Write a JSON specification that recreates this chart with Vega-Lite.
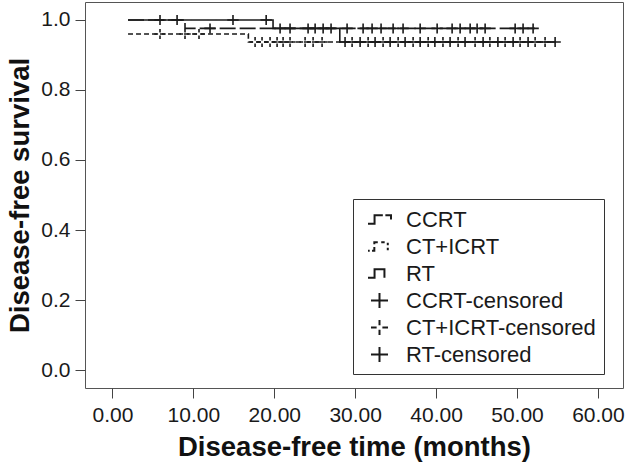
{
  "$schema": "https://vega.github.io/schema/vega-lite/v6.json",
  "width": 538,
  "height": 386,
  "autosize": {"type": "none"},
  "padding": {"left": 85, "top": 2, "right": 4, "bottom": 78},
  "background": "white",
  "config": {
    "font": "Liberation Sans",
    "view": {"stroke": "#555", "strokeWidth": 1},
    "axis": {
      "domain": false, "grid": false, "tickColor": "#444", "tickSize": 10, "tickWidth": 1,
      "labelFontSize": 21, "labelColor": "#1a1a1a", "labelFont": "Liberation Sans",
      "titleFontSize": 27.5, "titleFontWeight": "bold", "titleColor": "#111", "titleFont": "Liberation Sans"
    },
    "legend": {
      "padding": 8, "strokeColor": "#333", "labelFontSize": 22, "labelColor": "#1a1a1a",
      "labelFont": "Liberation Sans", "labelLimit": 0, "symbolSize": 529, "symbolStrokeWidth": 2,
      "symbolStrokeColor": "#1a1a1a", "symbolFillColor": "transparent",
      "labelOffset": 14, "symbolOffset": 6, "rowPadding": 3
    }
  },
  "datasets": {
    "lines": [
      {"series": "CCRT", "time": 1.93, "surv": 1.0},
      {"series": "CCRT", "time": 8.97, "surv": 0.976},
      {"series": "CCRT", "time": 52.2, "surv": 0.976},
      {"series": "RT", "time": 1.93, "surv": 1.0},
      {"series": "RT", "time": 19.85, "surv": 0.976},
      {"series": "RT", "time": 28.1, "surv": 0.937},
      {"series": "RT", "time": 54.8, "surv": 0.937},
      {"series": "CT+ICRT", "time": 1.93, "surv": 0.96},
      {"series": "CT+ICRT", "time": 16.8, "surv": 0.937},
      {"series": "CT+ICRT", "time": 54.1, "surv": 0.937}
    ],
    "censor": [
      {"series": "RT-censored", "time": 5.88, "surv": 1.0},
      {"series": "RT-censored", "time": 7.99, "surv": 1.0},
      {"series": "RT-censored", "time": 14.9, "surv": 1.0},
      {"series": "RT-censored", "time": 19.0, "surv": 1.0},
      {"series": "CCRT-censored", "time": 12.06, "surv": 0.976},
      {"series": "RT-censored", "time": 20.72, "surv": 0.976},
      {"series": "RT-censored", "time": 21.95, "surv": 0.976},
      {"series": "RT-censored", "time": 24.18, "surv": 0.976},
      {"series": "CCRT-censored", "time": 25.05, "surv": 0.976},
      {"series": "CCRT-censored", "time": 26.04, "surv": 0.976},
      {"series": "CCRT-censored", "time": 27.02, "surv": 0.976},
      {"series": "CCRT-censored", "time": 29.0, "surv": 0.976},
      {"series": "CCRT-censored", "time": 30.98, "surv": 0.976},
      {"series": "CCRT-censored", "time": 32.09, "surv": 0.976},
      {"series": "CCRT-censored", "time": 33.2, "surv": 0.976},
      {"series": "CCRT-censored", "time": 34.69, "surv": 0.976},
      {"series": "CCRT-censored", "time": 35.92, "surv": 0.976},
      {"series": "CCRT-censored", "time": 38.03, "surv": 0.976},
      {"series": "CCRT-censored", "time": 40.13, "surv": 0.976},
      {"series": "CCRT-censored", "time": 41.98, "surv": 0.976},
      {"series": "CCRT-censored", "time": 42.97, "surv": 0.976},
      {"series": "CCRT-censored", "time": 44.21, "surv": 0.976},
      {"series": "CCRT-censored", "time": 45.07, "surv": 0.976},
      {"series": "CCRT-censored", "time": 46.06, "surv": 0.976},
      {"series": "CCRT-censored", "time": 49.77, "surv": 0.976},
      {"series": "CCRT-censored", "time": 50.75, "surv": 0.976},
      {"series": "CCRT-censored", "time": 51.99, "surv": 0.976},
      {"series": "CT+ICRT-censored", "time": 5.88, "surv": 0.96},
      {"series": "CT+ICRT-censored", "time": 8.97, "surv": 0.96},
      {"series": "CT+ICRT-censored", "time": 10.7, "surv": 0.96},
      {"series": "CT+ICRT-censored", "time": 17.63, "surv": 0.937},
      {"series": "CT+ICRT-censored", "time": 18.49, "surv": 0.937},
      {"series": "CT+ICRT-censored", "time": 19.48, "surv": 0.937},
      {"series": "CT+ICRT-censored", "time": 20.35, "surv": 0.937},
      {"series": "CT+ICRT-censored", "time": 21.09, "surv": 0.937},
      {"series": "CT+ICRT-censored", "time": 21.95, "surv": 0.937},
      {"series": "CT+ICRT-censored", "time": 23.81, "surv": 0.937},
      {"series": "CT+ICRT-censored", "time": 24.8, "surv": 0.937},
      {"series": "CT+ICRT-censored", "time": 25.91, "surv": 0.937},
      {"series": "CT+ICRT-censored", "time": 29.62, "surv": 0.937},
      {"series": "CT+ICRT-censored", "time": 31.6, "surv": 0.937},
      {"series": "CT+ICRT-censored", "time": 33.45, "surv": 0.937},
      {"series": "CT+ICRT-censored", "time": 35.31, "surv": 0.937},
      {"series": "CT+ICRT-censored", "time": 37.16, "surv": 0.937},
      {"series": "CT+ICRT-censored", "time": 39.02, "surv": 0.937},
      {"series": "CT+ICRT-censored", "time": 40.85, "surv": 0.937},
      {"series": "CT+ICRT-censored", "time": 42.72, "surv": 0.937},
      {"series": "CT+ICRT-censored", "time": 44.82, "surv": 0.937},
      {"series": "CT+ICRT-censored", "time": 46.65, "surv": 0.937},
      {"series": "CT+ICRT-censored", "time": 48.53, "surv": 0.937},
      {"series": "CT+ICRT-censored", "time": 50.38, "surv": 0.937},
      {"series": "CT+ICRT-censored", "time": 52.24, "surv": 0.937},
      {"series": "CT+ICRT-censored", "time": 53.47, "surv": 0.937},
      {"series": "RT-censored", "time": 28.75, "surv": 0.937},
      {"series": "RT-censored", "time": 30.61, "surv": 0.937},
      {"series": "RT-censored", "time": 32.46, "surv": 0.937},
      {"series": "RT-censored", "time": 34.32, "surv": 0.937},
      {"series": "RT-censored", "time": 36.17, "surv": 0.937},
      {"series": "RT-censored", "time": 38.03, "surv": 0.937},
      {"series": "RT-censored", "time": 39.85, "surv": 0.937},
      {"series": "RT-censored", "time": 41.73, "surv": 0.937},
      {"series": "RT-censored", "time": 43.58, "surv": 0.937},
      {"series": "RT-censored", "time": 45.81, "surv": 0.937},
      {"series": "RT-censored", "time": 47.64, "surv": 0.937},
      {"series": "RT-censored", "time": 49.52, "surv": 0.937},
      {"series": "RT-censored", "time": 51.37, "surv": 0.937},
      {"series": "RT-censored", "time": 54.71, "surv": 0.937}
    ]
  },
  "encoding": {
    "x": {
      "field": "time", "type": "quantitative",
      "scale": {"domain": [-3.39, 63.1], "nice": false, "zero": false},
      "axis": {"values": [0, 10, 20, 30, 40, 50, 60], "format": ".2f", "labelPadding": 6, "titlePadding": 8, "title": "Disease-free time (months)"}
    },
    "y": {
      "field": "surv", "type": "quantitative",
      "scale": {"domain": [-0.0514, 1.0514], "nice": false, "zero": false},
      "axis": {"values": [0, 0.2, 0.4, 0.6, 0.8, 1.0], "format": ".1f", "labelPadding": 5, "titlePadding": 6, "title": "Disease-free survival"}
    }
  },
  "layer": [
    {
      "data": {"name": "lines"},
      "mark": {"type": "line", "interpolate": "step-after", "strokeWidth": 1.6, "color": "#1a1a1a"},
      "encoding": {
        "strokeDash": {
          "field": "series", "type": "nominal", "legend": null,
          "scale": {"domain": ["CCRT", "CT+ICRT", "RT"], "range": [[16, 4], [5, 3], [1, 0]]}
        }
      }
    },
    {
      "data": {"name": "censor"},
      "mark": {"type": "point", "filled": false, "size": 237, "strokeWidth": 1.6, "color": "#1a1a1a", "opacity": 1},
      "encoding": {
        "shape": {
          "field": "series", "type": "nominal",
          "scale": {
            "domain": ["CCRT", "CT+ICRT", "RT", "CCRT-censored", "CT+ICRT-censored", "RT-censored"],
            "range": [
              "M-1,0.36H-0.43V-0.36H0.29M0.51,-0.36H1V0",
              "M-1,0.36H-0.85M-0.65,0.36H-0.45V0.05M-0.45,-0.2V-0.36H-0.15M0.15,-0.36H0.45M0.72,-0.32V-0.1M0.72,0.1V0.32",
              "M-1,0.36H-0.43V-0.36H0.43V0.36",
              "M-0.74,0H0.74M0,-0.65V0.65",
              "M-0.74,0H-0.25M0.25,0H0.74M0,-0.65V-0.2M0,0.2V0.65",
              "M-0.74,0H0.74M0,-0.65V0.65"
            ]
          },
          "legend": {"title": null, "orient": "none", "legendX": 268, "legendY": 197}
        }
      }
    }
  ]
}
